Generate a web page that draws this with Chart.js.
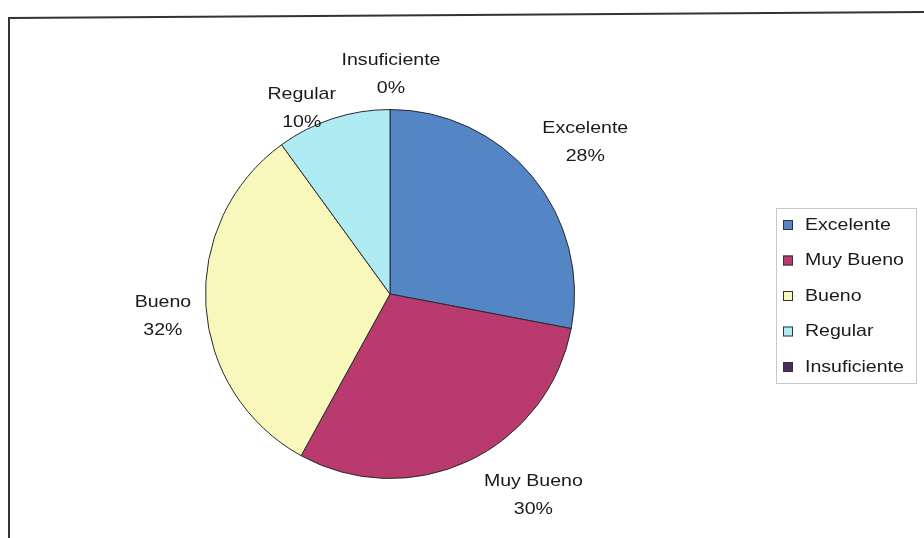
<!DOCTYPE html>
<html>
<head>
<meta charset="utf-8">
<script src="https://cdn.jsdelivr.net/npm/chart.js@4"></script>
<style>
    html, body { margin: 0; padding: 0; background: #fff; }
    #wrap { position: relative; width: 924px; height: 538px; }
</style>
</head>
<body>
<div id="wrap"><canvas id="pieChart" width="924" height="538"></canvas></div>
<script>
// data
const categories = ['Excelente', 'Muy Bueno', 'Bueno', 'Regular', 'Insuficiente'];
const percents = [28, 30, 32, 10, 0];

// styles
const sliceColors = ['#5485c4', '#b93a6f', '#f8f8bc', '#aeebf3', '#4b2d5a'];
const labelNudge = [[30, -15], [52, 7], [-13, 9], [-22, 18], [1, -5]];
const FONT = '17px "Liberation Sans", Arial, sans-serif';
const SCALE_X = 1.15;

function stretchedText(ctx, text, x, y, align) {
    ctx.save();
    ctx.translate(x, y);
    ctx.scale(SCALE_X, 1);
    ctx.textAlign = align;
    ctx.fillText(text, 0, 0);
    ctx.restore();
}

const decorPlugin = {
    id: 'decor',
    beforeDraw(chart) {
        const ctx = chart.ctx;
        ctx.save();
        ctx.fillStyle = '#fff';
        ctx.fillRect(0, 0, chart.width, chart.height);
        // frame (only left and top edges visible, slightly skewed like the scan)
        ctx.strokeStyle = '#333';
        ctx.lineWidth = 2;
        ctx.beginPath();
        ctx.moveTo(9, chart.height);
        ctx.lineTo(9, 18);
        ctx.lineTo(chart.width, 12);
        ctx.stroke();
        ctx.restore();
    },
    afterDraw(chart) {
        const ctx = chart.ctx;
        const meta = chart.getDatasetMeta(0);
        ctx.save();
        ctx.font = FONT;
        ctx.fillStyle = '#1a1a1a';
        ctx.textBaseline = 'middle';

        // data labels outside the slices
        meta.data.forEach((arc, i) => {
            const p = arc.getProps(['x', 'y', 'startAngle', 'endAngle', 'outerRadius'], true);
            const mid = (p.startAngle + p.endAngle) / 2;
            const r = p.outerRadius + 30;
            const cx = p.x + Math.cos(mid) * r + labelNudge[i][0];
            const cy = p.y + Math.sin(mid) * r + labelNudge[i][1];
            stretchedText(ctx, categories[i], cx, cy - 14, 'center');
            stretchedText(ctx, percents[i] + '%', cx, cy + 14, 'center');
        });

        // legend box
        const lx = 776, ly = 208, lw = 140, lh = 175;
        ctx.strokeStyle = '#c8c8c8';
        ctx.lineWidth = 1;
        ctx.strokeRect(lx + 0.5, ly + 0.5, lw, lh);
        categories.forEach((name, i) => {
            const y = ly + 17 + i * 35.5;
            ctx.fillStyle = sliceColors[i];
            ctx.fillRect(lx + 7, y - 5, 10, 10);
            ctx.strokeStyle = '#333';
            ctx.strokeRect(lx + 7.5, y - 4.5, 9, 9);
            ctx.fillStyle = '#1a1a1a';
            stretchedText(ctx, name, lx + 29, y, 'left');
        });
        ctx.restore();
    }
};

const ctx = document.getElementById('pieChart').getContext('2d');
new Chart(ctx, {
    type: 'pie',
    data: {
        labels: categories,
        datasets: [{
            data: percents,
            backgroundColor: sliceColors,
            borderColor: '#2a2a2a',
            borderWidth: 1
        }]
    },
    options: {
        responsive: false,
        animation: false,
        layout: { padding: { left: 203, right: 347, top: 109, bottom: 59 } },
        plugins: {
            legend: { display: false },
            tooltip: { enabled: false }
        }
    },
    plugins: [decorPlugin]
});
</script>
</body>
</html>
